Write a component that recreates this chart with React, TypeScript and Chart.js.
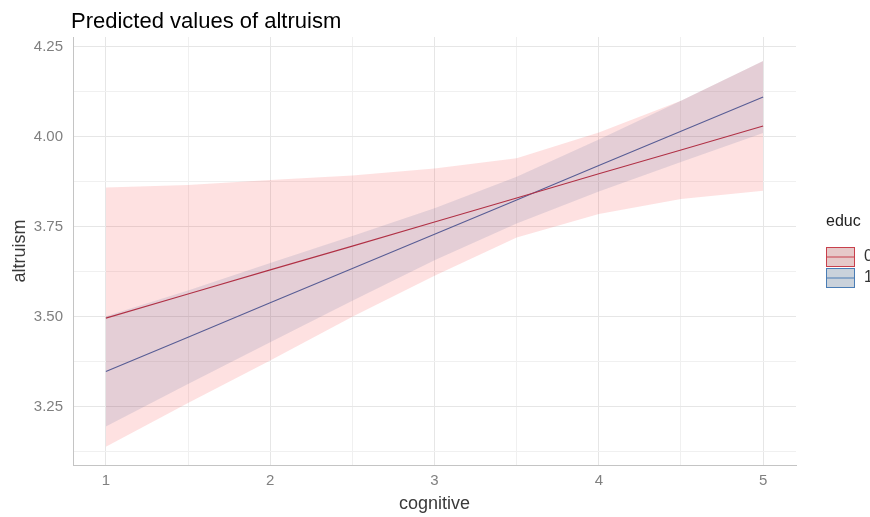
import React, { useEffect, useRef } from 'react';
import { Chart, registerables } from 'chart.js';

Chart.register(...registerables);

// cognitive values at which predictions were read
const cognitive = [1, 1.5, 2, 2.5, 3, 3.5, 4, 4.5, 5];

// educ = 0
const educ0Fit = [3.496, 3.563, 3.63, 3.696, 3.763, 3.83, 3.897, 3.963, 4.03];
const educ0Low = [3.139, 3.26, 3.378, 3.5, 3.614, 3.72, 3.785, 3.827, 3.85];
const educ0High = [3.859, 3.866, 3.88, 3.892, 3.912, 3.94, 4.012, 4.1, 4.21];

// educ = 1
const educ1Fit = [3.348, 3.443, 3.539, 3.634, 3.729, 3.824, 3.92, 4.015, 4.11];
const educ1Low = [3.195, 3.313, 3.429, 3.544, 3.657, 3.759, 3.848, 3.93, 4.01];
const educ1High = [3.501, 3.573, 3.649, 3.724, 3.801, 3.889, 3.992, 4.1, 4.21];

const xTicks = [1, 1.5, 2, 2.5, 3, 3.5, 4, 4.5, 5];
const xMajor = [1, 2, 3, 4, 5];
const yTicks = [3.125, 3.25, 3.375, 3.5, 3.625, 3.75, 3.875, 4.0, 4.125, 4.25];
const yMajor = [3.25, 3.5, 3.75, 4.0, 4.25];

const legendTitle = 'educ';
const legendLabels = ['0', '1'];
const titleText = 'Predicted values of altruism';

const RED = '#b8283a';
const BLUE = '#3f64a6';
const RED_FILL = 'rgba(245, 40, 40, 0.14)';
const BLUE_FILL = 'rgba(55, 110, 170, 0.15)';
const FONT = '"Liberation Sans", Arial, sans-serif';

const isIn = (arr: number[], v: number) => arr.some((a) => Math.abs(a - v) < 1e-6);

export default function App() {
  const ref = useRef<HTMLCanvasElement>(null);

  useEffect(() => {
    const pts = (ys: number[]) => cognitive.map((x, i) => ({ x, y: ys[i] }));

    const overlay = {
      id: 'overlay',
      afterDraw(chart: any) {
        const ctx = chart.ctx;
        ctx.save();
        // title
        ctx.fillStyle = '#000';
        ctx.font = `22px ${FONT}`;
        ctx.textAlign = 'left';
        ctx.textBaseline = 'alphabetic';
        ctx.fillText(titleText, 71, 28);
        // legend
        ctx.fillStyle = '#222';
        ctx.font = `16px ${FONT}`;
        ctx.textBaseline = 'middle';
        ctx.fillText(legendTitle, 826, 222);
        const colors = ['#c8404c', '#4a7db5'];
        const fills = [RED_FILL, BLUE_FILL];
        const tops = [247, 268];
        for (let i = 0; i < 2; i++) {
          const x = 826.5, y = tops[i] + 0.5, w = 28, h = 19;
          ctx.fillStyle = '#e4e4e4';
          ctx.fillRect(x, y, w, h);
          ctx.fillStyle = fills[i];
          ctx.fillRect(x, y, w, h);
          ctx.strokeStyle = colors[i];
          ctx.lineWidth = 1;
          ctx.strokeRect(x, y, w, h);
          ctx.beginPath();
          ctx.moveTo(x, y + h / 2);
          ctx.lineTo(x + w, y + h / 2);
          ctx.stroke();
          ctx.fillStyle = '#333';
          ctx.font = `16px ${FONT}`;
          ctx.fillText(legendLabels[i], 864, tops[i] + 10);
        }
        ctx.restore();
      },
    };

    const bandLine = { pointRadius: 0, borderWidth: 0, borderColor: 'rgba(0,0,0,0)', tension: 0 };

    const chart = new Chart(ref.current as HTMLCanvasElement, {
      type: 'line',
      data: {
        datasets: [
          { label: 'educ0 low', data: pts(educ0Low), ...bandLine, fill: false },
          { label: 'educ0 high', data: pts(educ0High), ...bandLine, fill: '-1', backgroundColor: RED_FILL },
          { label: 'educ1 low', data: pts(educ1Low), ...bandLine, fill: false },
          { label: 'educ1 high', data: pts(educ1High), ...bandLine, fill: '-1', backgroundColor: BLUE_FILL },
          { label: '0', data: pts(educ0Fit), borderColor: RED, borderWidth: 1.1, pointRadius: 0, fill: false, tension: 0 },
          { label: '1', data: pts(educ1Fit), borderColor: BLUE, borderWidth: 1.1, pointRadius: 0, fill: false, tension: 0 },
        ],
      },
      options: {
        responsive: false,
        animation: false,
        devicePixelRatio: 1,
        layout: { padding: { top: 37, right: 74, left: 0, bottom: 0 } },
        plugins: { legend: { display: false }, tooltip: { enabled: false }, title: { display: false } },
        scales: {
          x: {
            type: 'linear',
            min: 0.8,
            max: 5.2,
            afterBuildTicks: (s: any) => { s.ticks = xTicks.map((v) => ({ value: v })); },
            afterFit: (s: any) => { s.height = 52; },
            ticks: {
              color: '#808080',
              font: { family: FONT, size: 15 },
              padding: 7,
              maxRotation: 0,
              autoSkip: false,
              callback: (v: any) => (isIn(xMajor, Number(v)) ? String(v) : ''),
            },
            grid: {
              drawTicks: false,
              color: (c: any) => (c.tick && isIn(xMajor, c.tick.value) ? '#e6e6e6' : '#f0f0f0'),
              lineWidth: 1,
            },
            border: { display: true, color: '#c4c4c4', width: 1 },
            title: { display: true, text: 'cognitive', color: '#3a3a3a', font: { family: FONT, size: 18 }, padding: { top: 0, bottom: 2 } },
          },
          y: {
            type: 'linear',
            min: 3.088,
            max: 4.277,
            afterBuildTicks: (s: any) => { s.ticks = yTicks.map((v) => ({ value: v })); },
            afterFit: (s: any) => { s.width = 73; },
            ticks: {
              color: '#808080',
              font: { family: FONT, size: 15 },
              padding: 10,
              autoSkip: false,
              callback: (v: any) => (isIn(yMajor, Number(v)) ? Number(v).toFixed(2) : ''),
            },
            grid: {
              drawTicks: false,
              color: (c: any) => (c.tick && isIn(yMajor, c.tick.value) ? '#e6e6e6' : '#f0f0f0'),
              lineWidth: 1,
            },
            border: { display: true, color: '#c4c4c4', width: 1 },
            title: { display: true, text: 'altruism', color: '#3a3a3a', font: { family: FONT, size: 18 }, padding: { top: 9, bottom: 0 } },
          },
        },
      },
      plugins: [overlay],
    } as any);

    return () => chart.destroy();
  }, []);

  return (
    <div style={{ position: 'fixed', left: 0, top: 0, width: 870, height: 517, background: '#fff' }}>
      <canvas ref={ref} width={870} height={517} style={{ display: 'block', width: 870, height: 517 }} />
    </div>
  );
}
